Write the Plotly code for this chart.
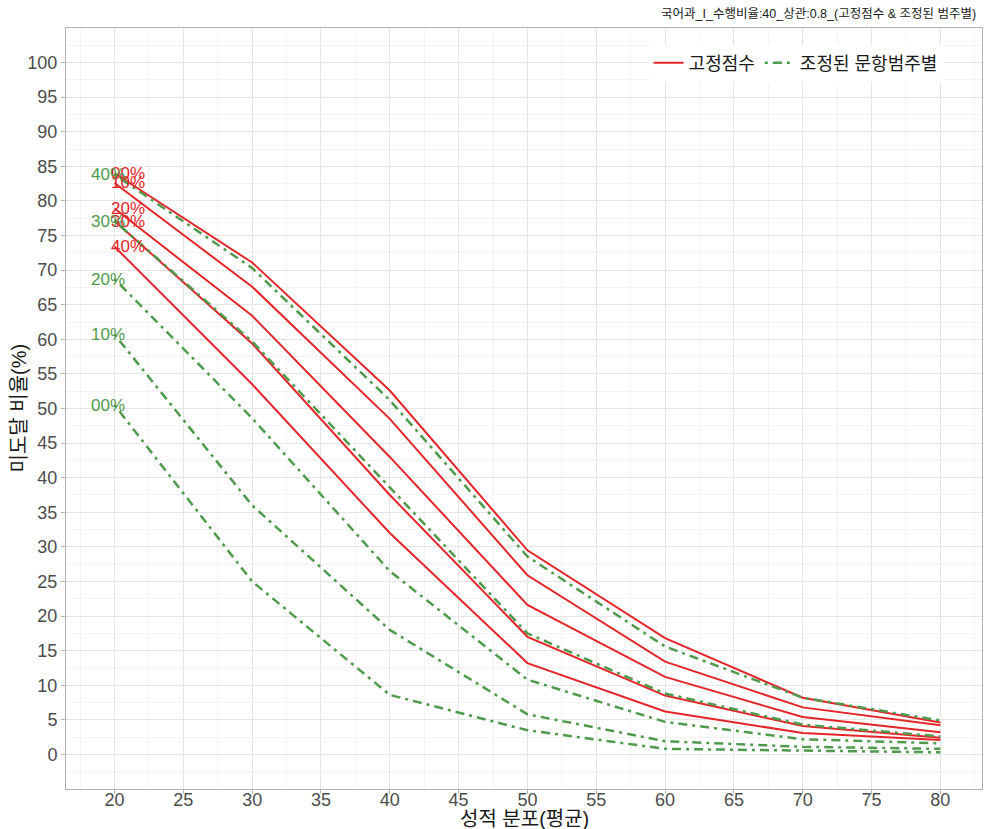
import plotly.graph_objects as go

x_vals = [20, 30, 40, 50, 60, 70, 80]
levels = ["00%", "10%", "20%", "30%", "40%"]

fixed_00 = [84.0, 71.1, 52.6, 29.5, 16.8, 8.2, 4.6]
fixed_10 = [82.6, 67.6, 48.5, 25.9, 13.4, 6.8, 4.2]
fixed_20 = [78.9, 63.4, 43.0, 21.6, 11.2, 5.4, 3.2]
fixed_30 = [77.1, 59.4, 37.5, 17.0, 8.5, 4.1, 2.4]
fixed_40 = [73.4, 53.5, 32.0, 13.2, 6.2, 3.1, 2.1]

adj_00 = [50.5, 25.0, 8.6, 3.5, 0.8, 0.5, 0.3]
adj_10 = [60.7, 36.0, 18.0, 5.8, 1.9, 1.1, 0.8]
adj_20 = [68.7, 48.6, 26.5, 10.8, 4.7, 2.2, 1.6]
adj_30 = [77.1, 59.7, 38.6, 17.5, 8.8, 4.3, 2.6]
adj_40 = [83.8, 70.3, 51.2, 28.6, 15.6, 8.2, 4.9]

fixed_series = [fixed_00, fixed_10, fixed_20, fixed_30, fixed_40]
adj_series = [adj_00, adj_10, adj_20, adj_30, adj_40]

x_ticks = list(range(20, 81, 5))
y_ticks = list(range(0, 101, 5))

title_text = "국어과_I_수행비율:40_상관:0.8_(고정점수 & 조정된 범주별)"
legend_fixed = "고정점수"
legend_adj = "조정된 문항범주별"
x_title = "성적 분포(평균)"
y_title = "미도달 비율(%)"

RED = "#e3262a"
GREEN = "#4f9a4c"
FONT = "Liberation Sans, Noto Sans CJK KR, sans-serif"

fig = go.Figure()

for i, (lvl, ys) in enumerate(zip(levels, fixed_series)):
    fig.add_trace(go.Scatter(
        x=x_vals, y=ys, mode="lines", name=legend_fixed,
        legendgroup="fixed", showlegend=(i == 0),
        line=dict(color=RED, width=2),
    ))
for i, (lvl, ys) in enumerate(zip(levels, adj_series)):
    fig.add_trace(go.Scatter(
        x=x_vals, y=ys, mode="lines", name=legend_adj,
        legendgroup="adj", showlegend=(i == 0),
        line=dict(color=GREEN, width=2.5, dash="3px,5px,9px,5px"),
    ))

# labels
for lvl, ys in zip(levels, fixed_series):
    fig.add_annotation(x=21, y=ys[0], text=lvl, showarrow=False,
                       font=dict(color=RED, size=17, family=FONT),
                       xanchor="center", yanchor="middle")
for lvl, ys in zip(levels, adj_series):
    fig.add_annotation(x=19.5, y=ys[0], text=lvl, showarrow=False,
                       font=dict(color=GREEN, size=17, family=FONT),
                       xanchor="center", yanchor="middle")

# title and axis titles
fig.add_annotation(x=0.996, y=1.0, xref="paper", yref="paper",
                   xanchor="right", yanchor="middle", yshift=15,
                   text=title_text, showarrow=False,
                   font=dict(size=12.5, color="#1a1a1a", family=FONT))
fig.add_annotation(x=0.5, y=0.0, xref="paper", yref="paper",
                   xanchor="center", yanchor="middle", yshift=-30,
                   text=x_title, showarrow=False,
                   font=dict(size=20, color="#1a1a1a", family=FONT))
fig.add_annotation(x=0.0, y=0.5, xref="paper", yref="paper",
                   xanchor="center", yanchor="middle", xshift=-48,
                   textangle=-90, text=y_title, showarrow=False,
                   font=dict(size=20, color="#1a1a1a", family=FONT))

axis_common = dict(
    showline=True, mirror=True, linecolor="#b3b3b3", linewidth=1,
    gridcolor="#e5e5e5", gridwidth=1, zeroline=False, automargin=False,
    ticks="outside", ticklen=4, tickcolor="#b3b3b3",
    tickfont=dict(size=18, color="#4d4d4d", family=FONT),
)

fig.update_xaxes(
    range=[16.475, 83.025], tickvals=x_ticks, ticklabelstandoff=-10,
    minor=dict(dtick=2.5, tick0=0, showgrid=True, gridcolor="#f3f3f3", gridwidth=1),
    **axis_common,
)
fig.update_yaxes(
    range=[-5, 105], tickvals=y_ticks,
    minor=dict(dtick=2.5, tick0=0, showgrid=True, gridcolor="#f3f3f3", gridwidth=1),
    **axis_common,
)

fig.update_layout(
    width=986, height=829,
    margin=dict(l=66, r=4, t=28, b=40, autoexpand=False),
    paper_bgcolor="white", plot_bgcolor="white",
    font=dict(family=FONT),
    legend=dict(
        orientation="h", x=0.636, y=0.954, xanchor="left", yanchor="middle",
        bgcolor="white", font=dict(size=18, color="#1a1a1a", family=FONT),
        itemwidth=30, tracegroupgap=0,
    ),
)

fig.write_html(
    "out.html",
    config={"displayModeBar": False},
    post_script="document.body.style.margin='0';document.body.style.overflow='hidden';",
)
